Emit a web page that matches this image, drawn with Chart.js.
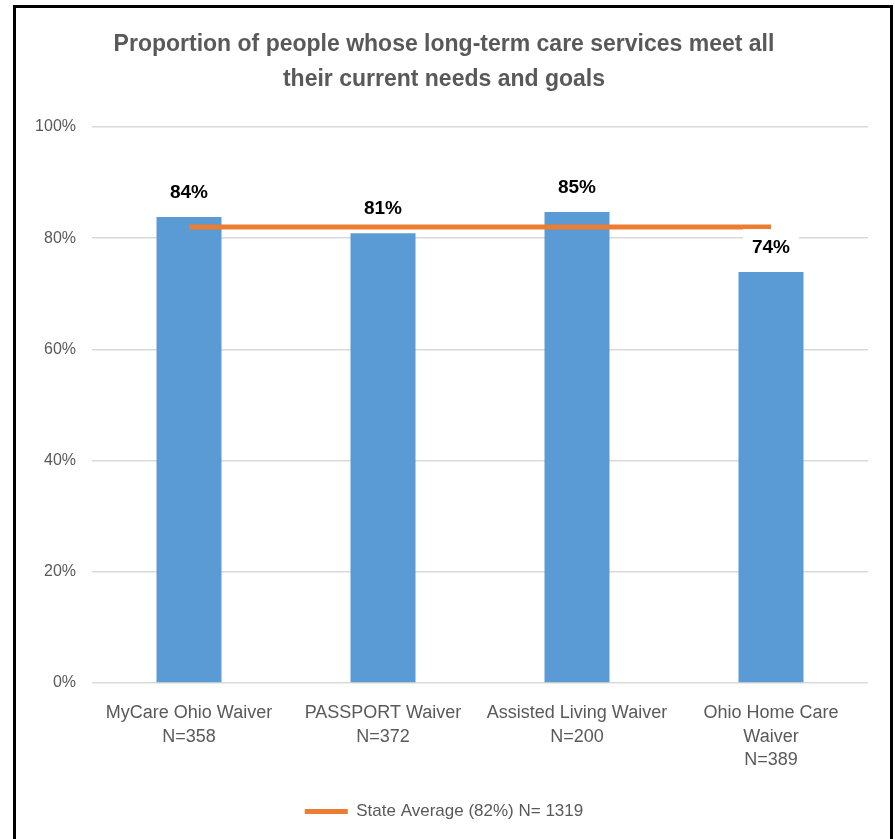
<!DOCTYPE html>
<html>
<head>
<meta charset="utf-8">
<script src="https://cdn.jsdelivr.net/npm/chart.js@4"></script>
<style>
  html, body { margin: 0; padding: 0; background: #fff; overflow: hidden; }
  #wrap { position: absolute; left: 0; top: 0; width: 895px; height: 839px; }
  #frame { position: absolute; left: 13px; top: 5px; width: 880px; height: 900px;
           border: 3px solid #000; box-sizing: border-box; pointer-events: none; }
</style>
</head>
<body>
<div id="wrap"><canvas id="chart" width="895" height="839"></canvas></div>
<div id="frame"></div>
<script>
const categories = [
  ['MyCare Ohio Waiver', 'N=358'],
  ['PASSPORT Waiver', 'N=372'],
  ['Assisted Living Waiver', 'N=200'],
  ['Ohio Home Care', 'Waiver', 'N=389']
];
const proportions = [83.8, 80.9, 84.7, 73.9];
const stateAverage = [82, 82, 82, 82];
const stateLabel = 'State Average (82%) N= 1319';
const yTicks = [0, 20, 40, 60, 80, 100];

const FONT = "'Liberation Sans', Arial, sans-serif";

const barLabels = {
  id: 'barLabels',
  afterDatasetsDraw(chart) {
    const ctx = chart.ctx;
    const meta = chart.getDatasetMeta(1);
    ctx.save();
    ctx.font = 'bold 19px ' + FONT;
    ctx.textAlign = 'center';
    ctx.textBaseline = 'middle';
    meta.data.forEach((bar, i) => {
      const txt = Math.round(proportions[i]) + '%';
      const y = bar.y - 24;
      const w = ctx.measureText(txt).width + 18;
      ctx.fillStyle = '#fff';
      ctx.fillRect(bar.x - w / 2, y - 19, w, 33);
      ctx.fillStyle = '#000';
      ctx.fillText(txt, bar.x, y);
    });
    ctx.restore();
  }
};

const ctx = document.getElementById('chart').getContext('2d');
new Chart(ctx, {
  type: 'bar',
  data: {
    labels: categories,
    datasets: [
      {
        type: 'line',
        label: stateLabel,
        data: stateAverage,
        borderColor: '#ED7D31',
        backgroundColor: '#ED7D31',
        borderWidth: 5,
        pointRadius: 0,
        order: 0
      },
      {
        label: 'Proportion',
        data: proportions,
        backgroundColor: '#5B9BD5',
        barPercentage: 0.335,
        categoryPercentage: 1,
        order: 1
      }
    ]
  },
  options: {
    responsive: false,
    animation: false,
    layout: { padding: { left: 20, right: 27, top: 0, bottom: 9 } },
    plugins: {
      title: {
        display: true,
        text: ['Proportion of people whose long-term care services meet all',
               'their current needs and goals'],
        color: '#595959',
        font: { family: FONT, size: 23, weight: 'bold', lineHeight: 1.52 },
        padding: { top: 27, bottom: 30 }
      },
      legend: {
        position: 'bottom',
        labels: {
          generateLabels: chart => Chart.defaults.plugins.legend.labels.generateLabels(chart)
            .filter(l => l.datasetIndex === 0)
            .map(l => Object.assign(l, { lineWidth: 0 })),
          boxWidth: 43,
          boxHeight: 5,
          color: '#595959',
          font: { family: FONT, size: 17 },
          padding: 10
        }
      },
      tooltip: { enabled: false }
    },
    scales: {
      x: {
        grid: { display: false },
        border: { display: false },
        ticks: {
          color: '#595959',
          font: { family: FONT, size: 18, lineHeight: 1.28 },
          maxRotation: 0,
          autoSkip: false,
          padding: 11
        },
        afterFit: s => { s.height = 110; }
      },
      y: {
        min: 0,
        max: 100,
        afterBuildTicks: s => { s.ticks = yTicks.map(v => ({ value: v })); },
        grid: { color: '#D9D9D9', lineWidth: 1.5, drawTicks: false },
        border: { display: false },
        ticks: {
          color: '#595959',
          font: { family: FONT, size: 16 },
          padding: 16,
          callback: v => v + '%'
        },
        afterFit: s => { s.width = 72; }
      }
    }
  },
  plugins: [barLabels]
});
</script>
</body>
</html>
